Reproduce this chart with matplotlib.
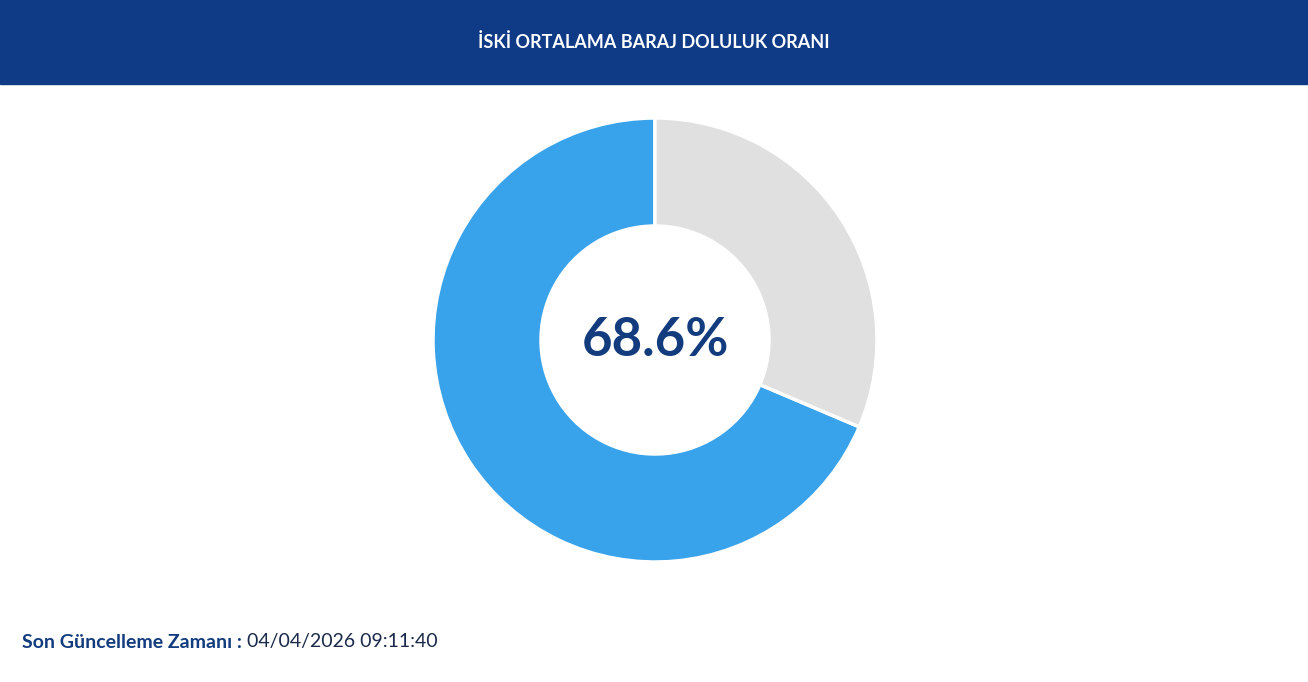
import matplotlib
matplotlib.use("Agg")
import matplotlib.pyplot as plt
from matplotlib.patches import Rectangle

title = "İSKİ ORTALAMA BARAJ DOLULUK ORANI"
labels = ["Dolu", "Boş"]
values = [68.6, 31.4]
colors = ["#38a2ea", "#e0e0e0"]
footer_label = "Son Güncelleme Zamanı :"
footer_value = "04/04/2026 09:11:40"

W, H = 1308, 682
fig = plt.figure(figsize=(W/100, H/100), dpi=100)
fig.patch.set_facecolor("white")
fig.patches.append(Rectangle((0, 1-84/H), 1, 84/H, transform=fig.transFigure, color="#0f3a86", zorder=0))
fig.text(0.5, 1-42/H, title, ha="center", va="center", color="white", fontsize=13, fontweight="bold", family="Lato")

cx, cy, r = 655, 340, 222
ax = fig.add_axes([(cx-r)/W, 1-(cy+r)/H, 2*r/W, 2*r/H])
ax.pie(values, colors=colors, startangle=90, counterclock=True, radius=1,
       wedgeprops=dict(width=1-114/222, edgecolor="white", linewidth=2.5))
ax.set_xlim(-1, 1); ax.set_ylim(-1, 1); ax.set_aspect("equal"); ax.axis("off")
ax.text(0, 0, f"{values[0]}%", ha="center", va="center", fontsize=38, fontweight="bold", color="#123c7e", family="Lato")

t = fig.text(22/W, 1-642/H, footer_label + " ", ha="left", va="center", fontsize=14, fontweight="bold", color="#123c7e", family="Lato")
fig.canvas.draw()
bb = t.get_window_extent()
fig.text(bb.x1/W, 1-642/H, footer_value, ha="left", va="center", fontsize=14, color="#1a2a4a", family="Lato")
fig.savefig("out.png", dpi=100)
